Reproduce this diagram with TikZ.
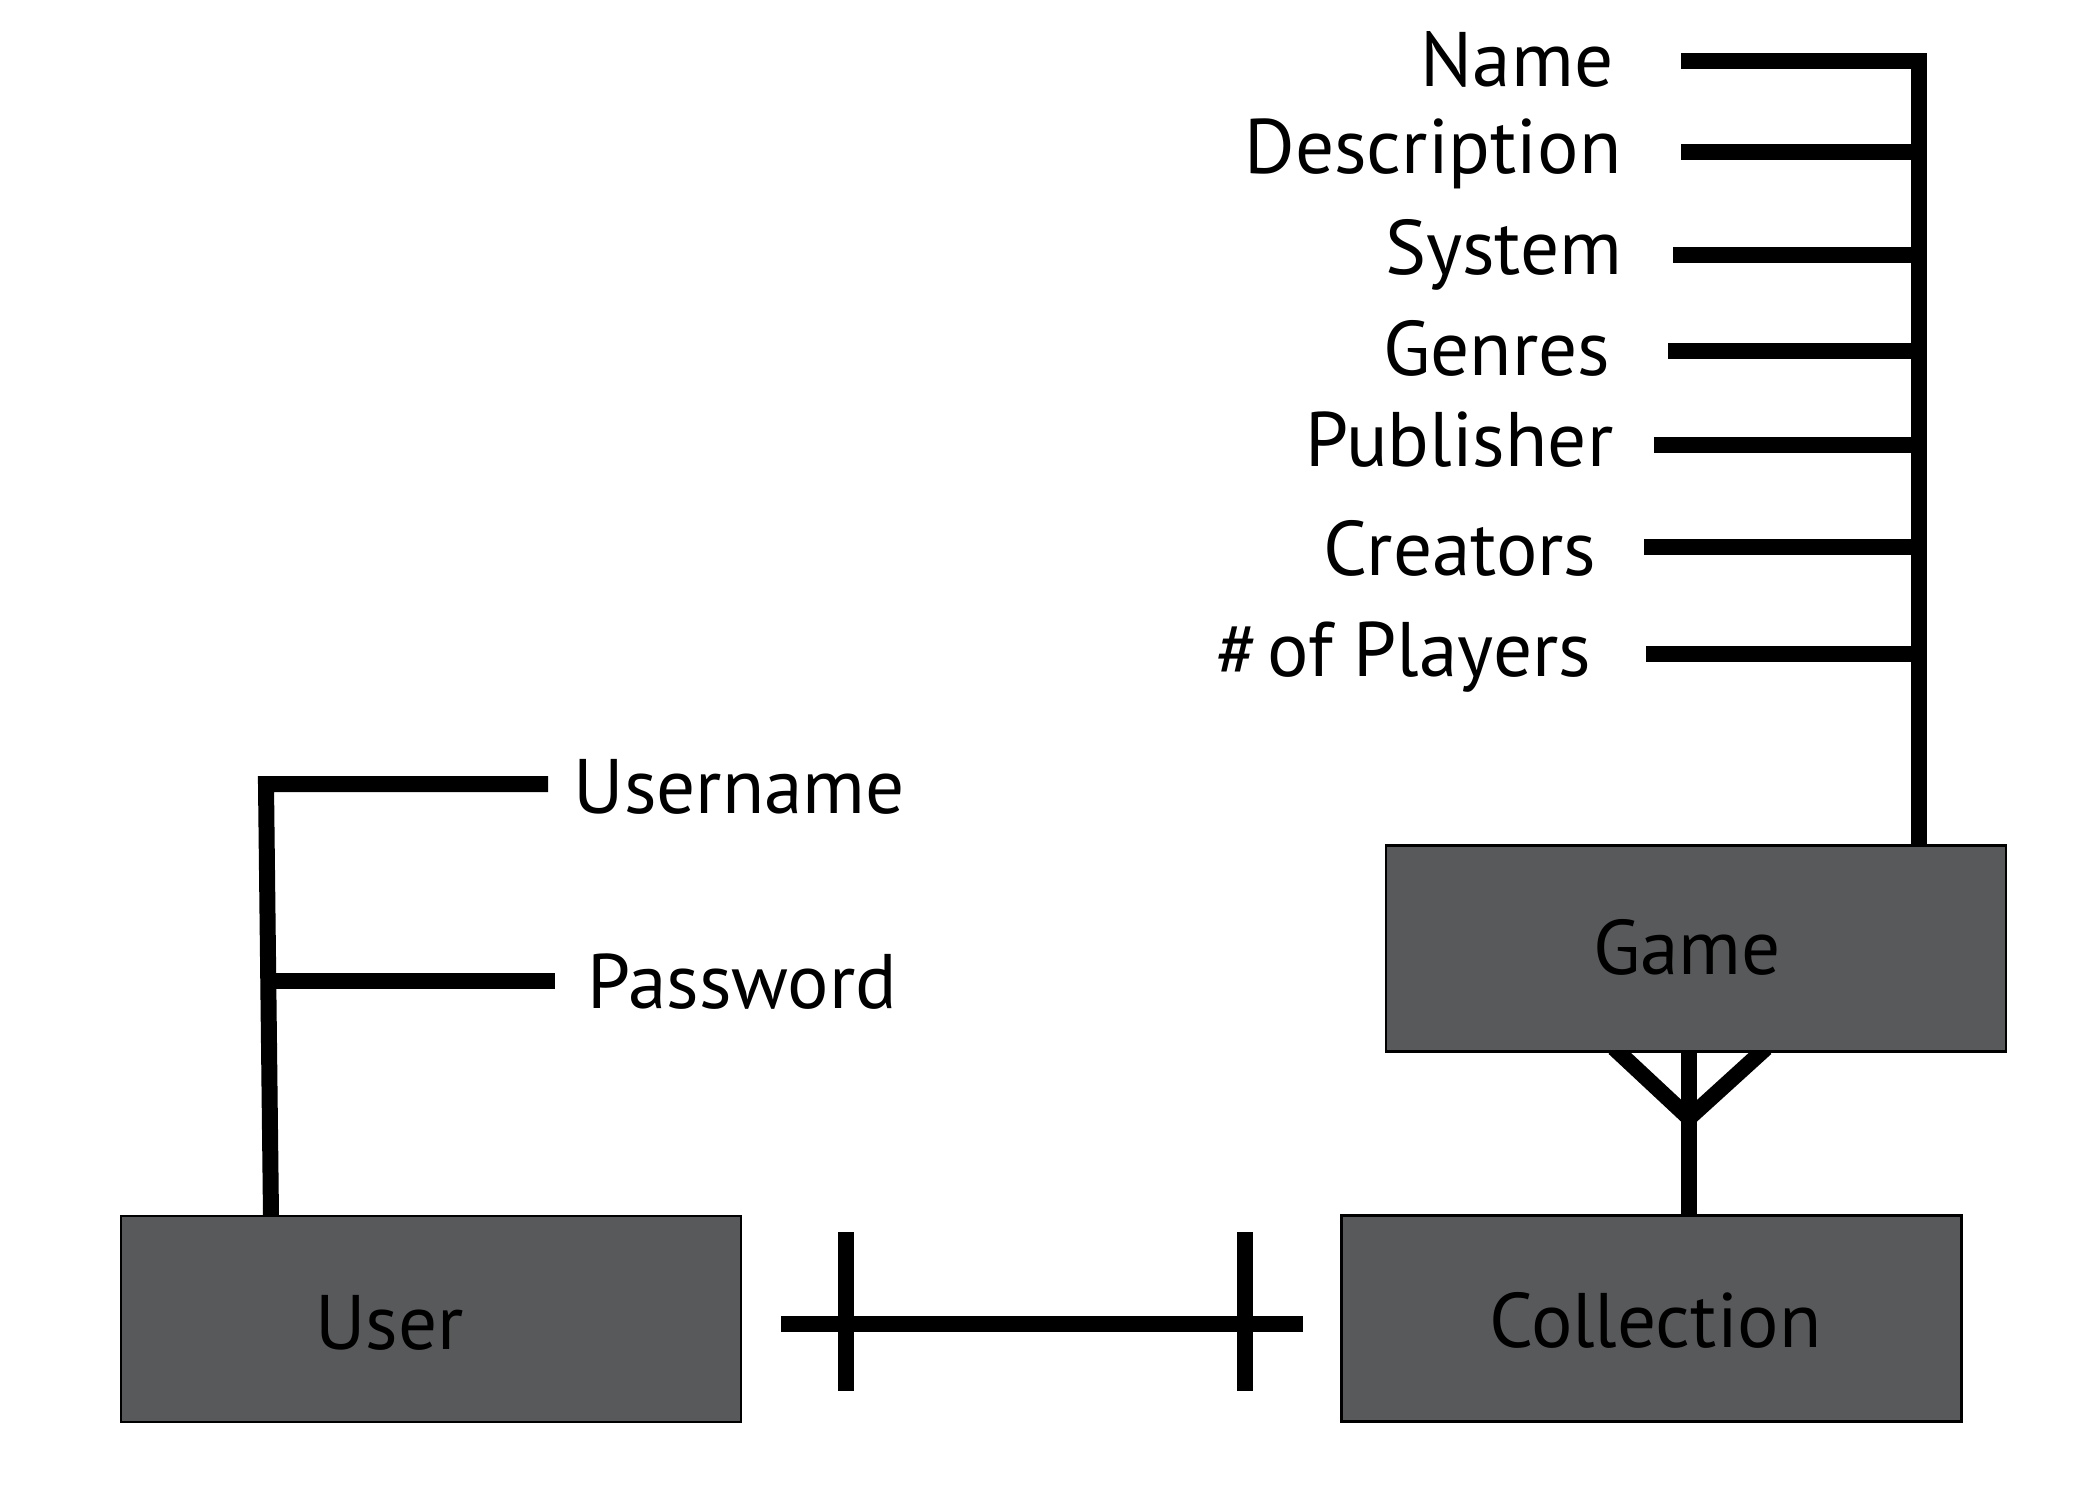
\documentclass[tikz,border=0pt]{standalone}
\usepackage{fontspec}
\setmainfont{PT Sans}
\usetikzlibrary{backgrounds}
\definecolor{boxgray}{HTML}{58595B}
\tikzset{
	entity/.style={draw=black, line width=0.6pt, fill=boxgray, minimum width=6.2cm, minimum height=2.06cm, inner sep=0pt, outer sep=0pt},
	boxlbl/.style={anchor=base, inner sep=0pt, font=\fontsize{22}{26}\selectfont},
	attrlbl/.style={anchor=base east, inner sep=0pt, font=\fontsize{22}{26}\selectfont},
	userlbl/.style={anchor=base west, inner sep=0pt, font=\fontsize{22}{26}\selectfont},
	link/.style={line width=0.16cm, line join=miter}
}

\begin{document}
\begin{tikzpicture}
			%%%%% START %%%%%
			\useasboundingbox (0, 0) rectangle (21, -15);
			
			\node[entity] (user) at (4.31, -13.19) {};
			\node[entity] (collection) at (16.515, -13.185) {};
			\node[entity] (game) at (16.96, -9.485) {};
			
			\node[boxlbl] (userName) at (3.895, -13.49) {User};
			\node[boxlbl] (collectionName) at (16.555, -13.47) {Collection};
			\node[boxlbl] (gameName) at (16.87, -9.74) {Game};
			
			\node[userlbl] (username) at (5.73, -8.13) {Username};
			\node[userlbl] (password) at (5.87, -10.08) {Password};
			
			\node[attrlbl] (name) at (16.14, -0.86) {Name};
			\node[attrlbl] (description) at (16.22, -1.73) {Description};
			\node[attrlbl] (system) at (16.23, -2.74) {System};
			\node[attrlbl] (genres) at (16.11, -3.75) {Genres};
			\node[attrlbl] (publisher) at (16.14, -4.66) {Publisher};
			\node[attrlbl] (creators) at (15.97, -5.75) {Creators};
			\node[attrlbl] (players) at (15.92, -6.76) {\#\kern0.12em of Players};
			
			\coordinate (gameSpine) at (19.19, -0.61);
			\coordinate (gameSpineR) at (19.27, -0.61);
			\coordinate (nameEnd) at (16.81, -0.61);
			\coordinate (descriptionEnd) at (16.81, -1.52);
			\coordinate (systemEnd) at (16.73, -2.55);
			\coordinate (genresEnd) at (16.68, -3.51);
			\coordinate (publisherEnd) at (16.54, -4.45);
			\coordinate (creatorsEnd) at (16.44, -5.47);
			\coordinate (playersEnd) at (16.46, -6.54);
			
			\coordinate (userSpine) at (2.66, -7.84);
			\coordinate (userSpineFoot) at (2.71, -12.16);
			\coordinate (usernameEnd) at (5.48, -7.84);
			\coordinate (passwordStart) at (2.68, -9.81);
			\coordinate (passwordEnd) at (5.55, -9.81);
			
			\coordinate (foot) at (16.89, -11.18);
			\coordinate (footL) at (16.14, -10.48);
			\coordinate (footR) at (17.66, -10.48);
			
			\coordinate (relUser) at (7.81, -13.24);
			\coordinate (relCollection) at (13.03, -13.24);
			
			\begin{scope}[on background layer]
				% game attributes
				\draw[link] (nameEnd) -- (gameSpine) -- (gameSpine |- game.north);
				\draw[link] (descriptionEnd) -- (descriptionEnd -| gameSpineR);
				\draw[link] (systemEnd) -- (systemEnd -| gameSpineR);
				\draw[link] (genresEnd) -- (genresEnd -| gameSpineR);
				\draw[link] (publisherEnd) -- (publisherEnd -| gameSpineR);
				\draw[link] (creatorsEnd) -- (creatorsEnd -| gameSpineR);
				\draw[link] (playersEnd) -- (playersEnd -| gameSpineR);
				
				% user attributes
				\draw[link] (usernameEnd) -- (userSpine) -- (userSpineFoot);
				\draw[link] (passwordStart) -- (passwordEnd);
				
				% game - collection (many)
				\draw[link] (footL) -- (foot) -- (footR);
				\draw[link] (game.south -| foot) -- ([yshift=-0.04cm]collection.north -| foot);
				
				% user - collection (one to one)
				\draw[link] (relUser) -- (relCollection);
				\draw[link] ([xshift=0.65cm]relUser) ++(0, 0.92) -- ++(0, -1.59);
				\draw[link] ([xshift=-0.58cm]relCollection) ++(0, 0.92) -- ++(0, -1.59);
			\end{scope}
			
			%%%%% END %%%%%
\end{tikzpicture}
\end{document}
